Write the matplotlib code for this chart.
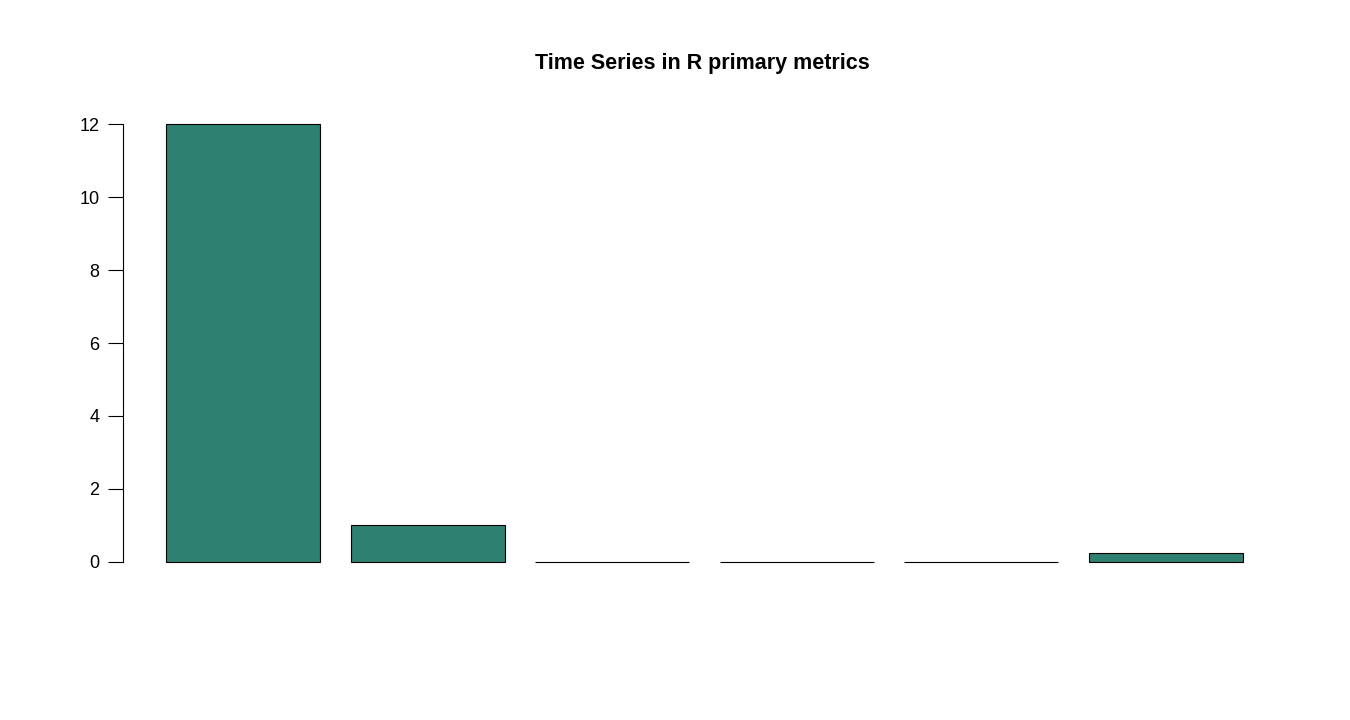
import matplotlib
matplotlib.use("Agg")
import matplotlib.pyplot as plt

plt.rcParams['font.family'] = ['Liberation Sans', 'DejaVu Sans']

values = [12, 1, 0, 0, 0, 0.25]
positions = [0.7 + 1.2 * i for i in range(len(values))]

fig = plt.figure(figsize=(13.5, 7.2), dpi=100)
ax = fig.add_axes([123 / 1350, (720 - 579.5) / 720, 1163 / 1350, 473 / 720])

ax.bar(positions, values, width=1.0, color='#2E8070', edgecolor='black', linewidth=0.8)

ax.set_xlim(-0.08, 7.48)
ax.set_ylim(-0.48, 12.48)
for s in ['top', 'right', 'bottom']:
    ax.spines[s].set_visible(False)
ax.spines['left'].set_bounds(0, 12)
ax.spines['left'].set_linewidth(0.8)
ax.set_xticks([])
ax.set_yticks(range(0, 13, 2))
ax.tick_params(axis='y', length=11, width=0.8, labelsize=13, pad=6)

fig.text(0.5 + 0.02, 1 - 63 / 720, 'Time Series in R primary metrics',
         ha='center', va='center', fontsize=15.5, fontweight='bold')

fig.savefig('out.png')
